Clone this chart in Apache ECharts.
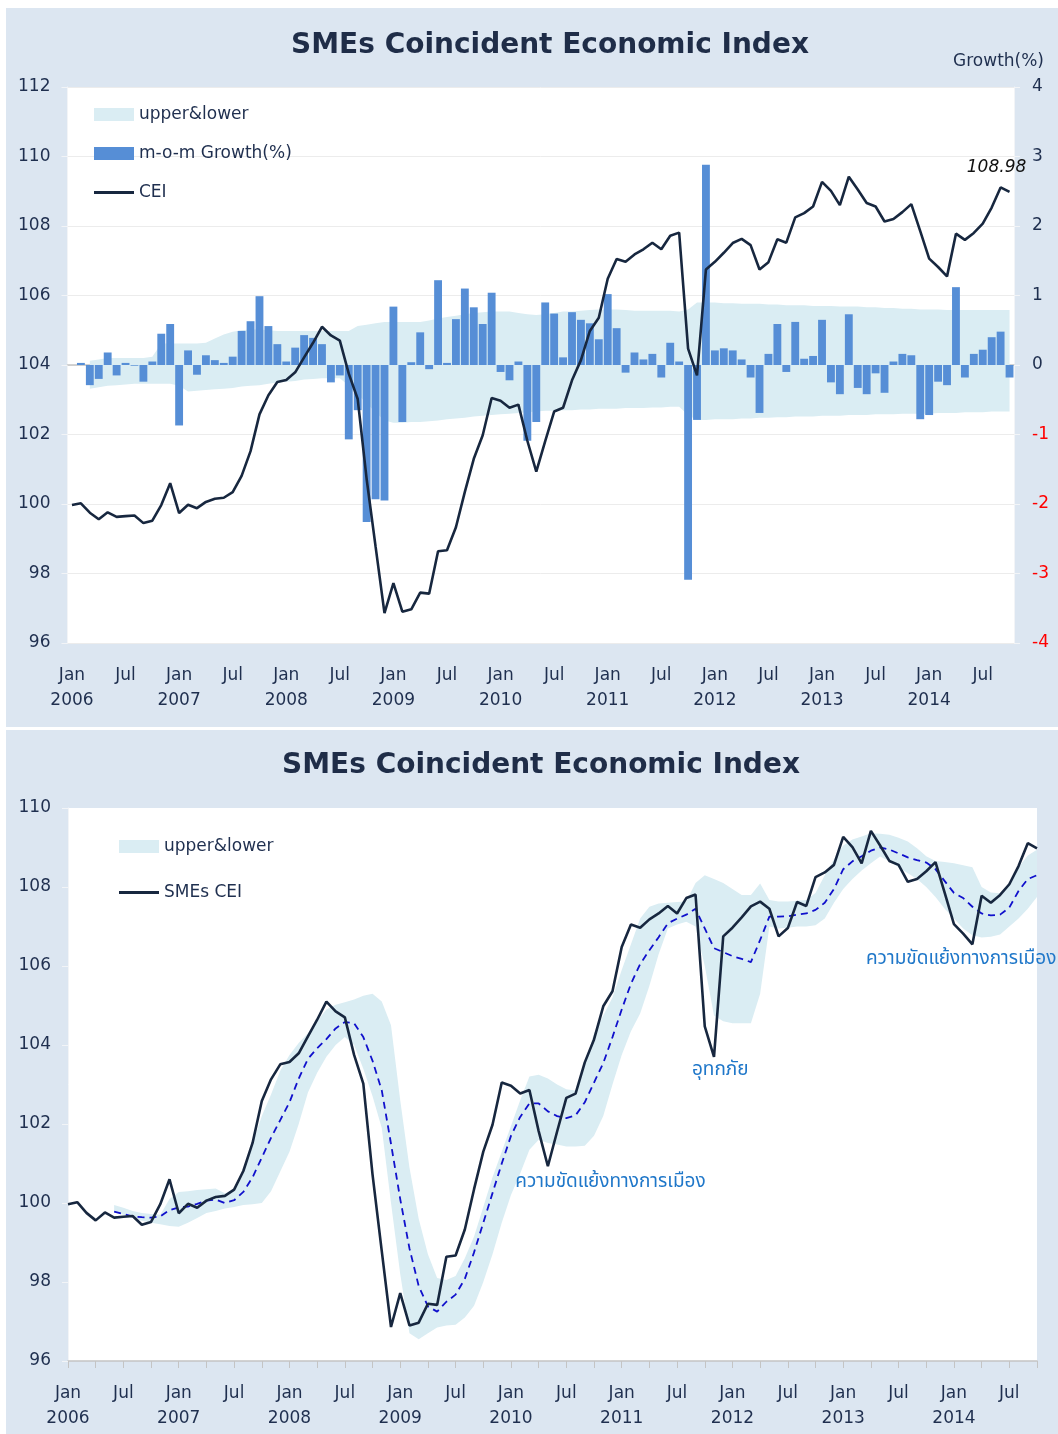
<!DOCTYPE html>
<html><head><meta charset="utf-8">
<script src="https://cdn.jsdelivr.net/npm/echarts@6/dist/echarts.min.js"></script>
<style>
html,body{margin:0;padding:0;background:#fff;}
#c1{position:absolute;left:6px;top:8px;width:1052px;height:719px;background:#dce6f1;}
#c2{position:absolute;left:6px;top:730px;width:1052px;height:704px;background:#dce6f1;}
</style></head><body>
<div id="c1"></div><div id="c2"></div>
<script>
// ---------- categories ----------
const monthNames = ['Jan','Feb','Mar','Apr','May','Jun','Jul','Aug','Sep','Oct','Nov','Dec'];
const months = [];
for (let i = 0; i < 106; i++) { const y = 2006 + Math.floor(i / 12), m = i % 12 + 1; months.push(y + '-' + (m < 10 ? '0' : '') + m); }

// ---------- data ----------
const cei = [99.97,100.02,99.75,99.56,99.76,99.63,99.65,99.67,99.45,99.52,
99.97,100.60,99.74,99.98,99.88,100.06,100.15,100.18,100.34,100.81,
101.52,102.58,103.13,103.51,103.57,103.79,104.22,104.64,105.10,104.85,
104.70,103.75,103.02,100.72,98.78,96.86,97.72,96.90,96.97,97.45,
97.42,98.64,98.67,99.33,100.35,101.30,101.98,103.05,102.97,102.77,
102.86,101.82,100.93,101.81,102.66,102.77,103.56,104.14,104.98,105.36,
106.48,107.05,106.97,107.18,107.33,107.52,107.33,107.72,107.81,104.47,
103.70,106.75,106.97,107.23,107.51,107.63,107.45,106.75,106.96,107.62,
107.52,108.25,108.37,108.56,109.27,109.01,108.60,109.42,109.05,108.66,
108.56,108.13,108.20,108.40,108.63,107.85,107.06,106.82,106.55,107.78,
107.60,107.80,108.07,108.53,109.11,108.98];

const growth = [null,0.03,-0.29,-0.20,0.18,-0.15,0.03,-0.01,-0.24,0.05,
0.45,0.59,-0.87,0.21,-0.14,0.14,0.07,0.03,0.12,0.49,
0.63,0.99,0.56,0.30,0.05,0.25,0.43,0.39,0.30,-0.25,
-0.15,-1.07,-0.65,-2.26,-1.93,-1.95,0.84,-0.82,0.04,0.47,
-0.06,1.22,0.03,0.66,1.10,0.83,0.59,1.04,-0.10,-0.22,
0.05,-1.09,-0.82,0.90,0.74,0.11,0.76,0.65,0.60,0.37,
1.02,0.53,-0.11,0.18,0.08,0.16,-0.18,0.32,0.05,-3.09,
-0.79,2.88,0.21,0.24,0.21,0.08,-0.18,-0.69,0.16,0.59,
-0.10,0.62,0.09,0.13,0.65,-0.25,-0.42,0.73,-0.33,-0.42,
-0.12,-0.40,0.05,0.16,0.14,-0.78,-0.72,-0.24,-0.29,1.12,
-0.18,0.16,0.22,0.40,0.48,-0.18];

const growthUpper = [null,null,0.06,0.08,0.10,0.10,0.10,0.10,0.10,0.12,
0.31,0.31,0.31,0.31,0.31,0.32,0.38,0.44,0.48,0.50,
0.51,0.51,0.50,0.49,0.49,0.49,0.49,0.49,0.49,0.49,
0.49,0.49,0.56,0.58,0.60,0.62,0.62,0.62,0.62,0.62,
0.64,0.67,0.69,0.71,0.73,0.75,0.76,0.77,0.77,0.77,
0.75,0.73,0.72,0.73,0.75,0.77,0.77,0.78,0.79,0.80,
0.80,0.80,0.79,0.78,0.78,0.78,0.78,0.78,0.77,0.80,
0.90,0.90,0.90,0.89,0.89,0.88,0.88,0.88,0.87,0.87,
0.86,0.86,0.86,0.85,0.85,0.85,0.84,0.84,0.84,0.83,
0.83,0.82,0.82,0.81,0.81,0.80,0.80,0.80,0.79,0.79,
0.79,0.79,0.79,0.79,0.79,0.79];

const growthLower = [null,null,-0.34,-0.32,-0.30,-0.29,-0.28,-0.27,-0.27,-0.27,
-0.27,-0.27,-0.30,-0.38,-0.37,-0.36,-0.35,-0.34,-0.33,-0.31,
-0.30,-0.29,-0.27,-0.25,-0.24,-0.23,-0.21,-0.20,-0.19,-0.19,
-0.19,-0.30,-0.42,-0.55,-0.68,-0.80,-0.83,-0.83,-0.82,-0.82,
-0.81,-0.80,-0.78,-0.77,-0.76,-0.74,-0.73,-0.72,-0.71,-0.70,
-0.69,-0.68,-0.67,-0.66,-0.66,-0.65,-0.65,-0.64,-0.64,-0.63,
-0.63,-0.63,-0.62,-0.62,-0.62,-0.61,-0.61,-0.60,-0.60,-0.72,
-0.79,-0.79,-0.78,-0.78,-0.78,-0.77,-0.77,-0.76,-0.76,-0.75,
-0.75,-0.74,-0.74,-0.74,-0.73,-0.73,-0.73,-0.72,-0.72,-0.72,
-0.71,-0.71,-0.71,-0.70,-0.70,-0.70,-0.70,-0.69,-0.69,-0.69,
-0.68,-0.68,-0.68,-0.67,-0.67,-0.67];

const trend = [null,null,null,null,null,99.78,99.72,99.66,99.64,99.63,
99.66,99.82,99.89,99.91,99.98,100.06,100.09,100.00,100.07,100.28,
100.65,101.15,101.65,102.10,102.55,103.15,103.65,103.92,104.15,104.42,
104.58,104.55,104.20,103.60,102.85,101.50,100.10,98.85,97.90,97.38,
97.25,97.50,97.68,98.08,98.75,99.50,100.25,101.00,101.70,102.18,
102.52,102.52,102.32,102.20,102.15,102.22,102.55,103.05,103.54,104.20,
104.90,105.55,106.05,106.40,106.73,107.08,107.20,107.30,107.45,106.95,
106.45,106.35,106.25,106.18,106.10,106.66,107.25,107.25,107.26,107.30,
107.33,107.42,107.60,107.95,108.45,108.65,108.78,108.92,109.00,108.95,
108.85,108.75,108.68,108.62,108.45,108.15,107.85,107.72,107.50,107.33,
107.28,107.30,107.48,107.90,108.20,108.30];

const bandUpper = [null,null,null,null,null,99.95,99.88,99.80,99.75,99.72,
99.70,100.10,100.28,100.30,100.33,100.35,100.37,100.25,100.35,100.90,
101.50,102.20,102.75,103.35,103.75,104.05,104.30,104.60,104.90,105.02,
105.08,105.15,105.25,105.30,105.10,104.50,102.60,100.90,99.60,98.70,
98.10,98.05,98.15,98.60,99.15,99.90,100.65,101.30,101.95,102.60,
103.20,103.25,103.15,103.00,102.88,102.85,103.50,104.30,104.75,105.20,
105.90,106.55,107.20,107.50,107.58,107.60,107.62,107.63,108.10,108.30,
108.20,108.10,107.95,107.80,107.80,108.09,107.67,107.63,107.63,107.65,
107.67,107.85,108.30,108.70,109.05,109.20,109.28,109.36,109.35,109.32,
109.25,109.15,108.98,108.78,108.66,108.63,108.60,108.55,108.50,108.00,
107.86,107.84,108.10,108.50,108.80,108.94];

const bandLower = [null,null,null,null,null,99.78,99.70,99.62,99.55,99.50,
99.46,99.42,99.40,99.50,99.62,99.75,99.80,99.86,99.90,99.95,
99.97,100.00,100.30,100.80,101.30,102.00,102.80,103.30,103.70,104.00,
104.20,104.00,103.40,102.70,101.90,100.00,98.20,96.70,96.55,96.70,
96.85,96.90,96.92,97.10,97.40,98.00,98.70,99.50,100.20,100.75,
101.35,101.60,101.52,101.48,101.43,101.43,101.45,101.70,102.20,103.00,
103.75,104.35,104.80,105.50,106.30,106.95,107.05,107.12,107.00,106.00,
104.75,104.60,104.55,104.55,104.55,105.30,107.00,106.95,106.97,107.00,
107.00,107.03,107.20,107.60,107.95,108.20,108.42,108.60,108.77,108.65,
108.50,108.35,108.20,108.00,107.75,107.45,107.20,106.95,106.78,106.72,
106.74,106.80,107.00,107.20,107.45,107.75];

const annotations = [
  {idx: 59, value: 100.51, text: 'ความขัดแย้งทางการเมือง', dx: -2},
  {idx: 71, value: 103.34, text: 'อุทกภัย', dx: -3},
  {idx: 97, value: 106.15, text: 'ความขัดแย้งทางการเมือง', dx: -2}
];

// ---------- styles ----------
const FONT = 'DejaVu Sans';
const TXT = '#1f2f4f';
const BAND = '#daedf3';
const BAR = '#568ed6';
const LINE = '#17273f';
const LINE_ICON = 'path://M0,0H40V3H0Z';

function diff(u, l) { return u.map((v, i) => (v == null || l[i] == null) ? null : +(v - l[i]).toFixed(3)); }
function xLabel(v) { const p = v.split('-'); const mi = +p[1] - 1; return mi === 0 ? 'Jan\n' + p[0] : monthNames[mi]; }

const xAxisCommon = {
  type: 'category', data: months,
  axisLine: {lineStyle: {color: '#c4c4c4', width: 1.5}},
  axisTick: {interval: 2, length: 7, lineStyle: {color: '#c4c4c4'}},
  axisLabel: {interval: 5, formatter: xLabel, color: TXT, fontSize: 17, fontFamily: FONT, lineHeight: 25, margin: 20},
  splitLine: {show: false}
};
const titleStyle = {font: 'bold 28px "DejaVu Sans"', fill: '#1f2d48', textAlign: 'center', textVerticalAlign: 'middle'};

// ---------- chart 1 ----------
const ch1 = echarts.init(document.getElementById('c1'));
const lastIdx = cei.length - 1;
ch1.setOption({
  animation: false,
  graphic: [
    {type: 'text', x: 544, y: 38, style: Object.assign({text: 'SMEs Coincident Economic Index'}, titleStyle)},
    {type: 'text', right: 14, top: 45, style: {text: 'Growth(%)', font: '17px "DejaVu Sans"', fill: TXT}}
  ],
  legend: {orient: 'vertical', left: 88, top: 98, padding: 0, itemGap: 22, itemWidth: 40, itemHeight: 13,
    textStyle: {fontFamily: FONT, fontSize: 17, color: TXT},
    data: [{name: 'upper&lower', icon: 'rect'}, {name: 'm-o-m Growth(%)', icon: 'rect'}, {name: 'CEI', icon: LINE_ICON}]},
  grid: {left: 61.5, right: 44, top: 79, bottom: 84, show: true, backgroundColor: '#fff', borderWidth: 0},
  xAxis: Object.assign({}, xAxisCommon, {boundaryGap: true}),
  yAxis: [
    {type: 'value', min: 96, max: 112, interval: 2,
      axisLine: {show: true, lineStyle: {color: '#f2f4f7'}},
      axisTick: {show: true, length: 6, lineStyle: {color: '#f2f4f7'}},
      splitLine: {lineStyle: {color: '#ececec'}},
      axisLabel: {color: TXT, fontSize: 17, fontFamily: FONT, margin: 17}},
    {type: 'value', min: -4, max: 4, interval: 1, position: 'right',
      axisLine: {show: true, lineStyle: {color: '#f2f4f7'}},
      axisTick: {show: true, length: 6, lineStyle: {color: '#f2f4f7'}},
      splitLine: {show: false},
      axisLabel: {color: v => (v < 0 ? '#ff0000' : TXT), fontSize: 17, fontFamily: FONT, margin: 18}}
  ],
  series: [
    {name: 'bandLow', type: 'line', yAxisIndex: 1, stack: 'g', stackStrategy: 'all', data: growthLower, z: 1,
      symbol: 'none', lineStyle: {opacity: 0}, silent: true},
    {name: 'upper&lower', type: 'line', yAxisIndex: 1, stack: 'g', stackStrategy: 'all', data: diff(growthUpper, growthLower), z: 1,
      symbol: 'none', lineStyle: {opacity: 0, width: 0}, itemStyle: {color: BAND}, areaStyle: {color: BAND, opacity: 1}, silent: true},
    {name: 'm-o-m Growth(%)', type: 'bar', yAxisIndex: 1, data: growth, barCategoryGap: '12%', z: 3,
      itemStyle: {color: BAR}},
    {name: 'CEI', type: 'line', yAxisIndex: 0, symbol: 'none', z: 5, data: cei,
      lineStyle: {color: LINE, width: 2.6}, itemStyle: {color: LINE},
      markPoint: {symbol: 'rect', symbolSize: [1, 1], itemStyle: {color: 'rgba(0,0,0,0)'}, silent: true,
        label: {show: true, position: 'inside', offset: [-13, -24], formatter: '{c}', fontStyle: 'italic',
          fontFamily: FONT, fontSize: 17, color: '#111'},
        data: [{coord: [months[lastIdx], cei[lastIdx]], value: cei[lastIdx]}]}}
  ]
});

// ---------- chart 2 ----------
const ch2 = echarts.init(document.getElementById('c2'));
ch2.setOption({
  animation: false,
  graphic: [
    {type: 'text', x: 535, y: 36, style: Object.assign({text: 'SMEs Coincident Economic Index'}, titleStyle)}
  ],
  legend: {orient: 'vertical', left: 113, top: 108, padding: 0, itemGap: 29, itemWidth: 40, itemHeight: 13,
    textStyle: {fontFamily: FONT, fontSize: 17, color: TXT},
    data: [{name: 'upper&lower', icon: 'rect'}, {name: 'SMEs CEI', icon: LINE_ICON}]},
  grid: {left: 62, right: 21, top: 78, bottom: 73, show: true, backgroundColor: '#fff', borderWidth: 0},
  xAxis: Object.assign({}, xAxisCommon, {boundaryGap: false}),
  yAxis: {type: 'value', min: 96, max: 110, interval: 2,
    axisLine: {show: true, lineStyle: {color: '#f2f4f7'}},
    axisTick: {show: true, length: 6, lineStyle: {color: '#f2f4f7'}},
    splitLine: {show: false},
    axisLabel: {color: TXT, fontSize: 17, fontFamily: FONT, margin: 17}},
  series: [
    {name: 'bandLow2', type: 'line', stack: 'b', data: bandLower, symbol: 'none', lineStyle: {opacity: 0}, silent: true, z: 1},
    {name: 'upper&lower', type: 'line', stack: 'b', data: diff(bandUpper, bandLower), symbol: 'none', z: 1,
      lineStyle: {opacity: 0, width: 0}, itemStyle: {color: BAND}, areaStyle: {color: BAND, opacity: 1}, silent: true},
    {name: 'trend', type: 'line', data: trend, symbol: 'none', z: 4,
      lineStyle: {color: '#1010cc', width: 1.8, type: [7, 5]}},
    {name: 'SMEs CEI', type: 'line', data: cei, symbol: 'none', z: 5,
      lineStyle: {color: LINE, width: 2.6}, itemStyle: {color: LINE},
      markPoint: {symbol: 'rect', symbolSize: [1, 1], itemStyle: {color: 'rgba(0,0,0,0)'}, silent: true,
        label: {show: true, position: 'inside', color: '#1f77c9', fontSize: 19, fontFamily: '"Noto Sans Thai", "DejaVu Sans", sans-serif'},
        data: annotations.map(a => ({coord: [months[a.idx], a.value], value: a.text,
          label: {formatter: a.text, offset: [a.dx, 0]}}))}}
  ]
});
</script>
</body></html>
